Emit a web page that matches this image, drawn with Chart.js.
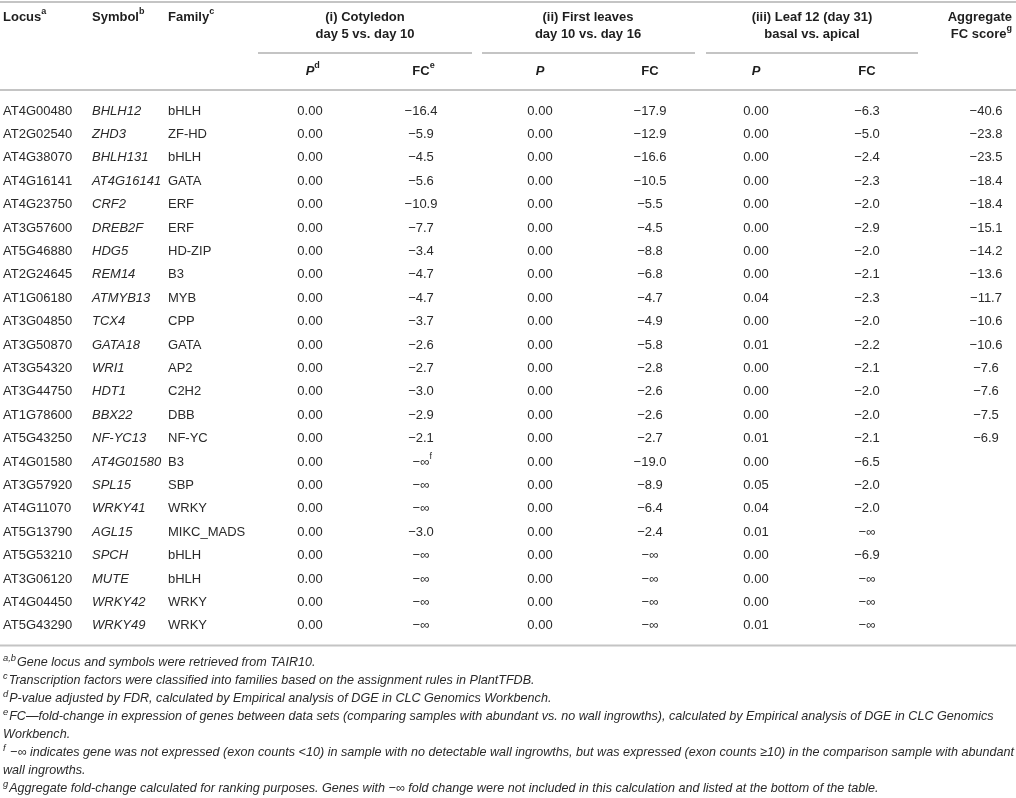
<!DOCTYPE html>
<html><head><meta charset="utf-8">
<script src="https://cdn.jsdelivr.net/npm/chart.js@4.4.1/dist/chart.umd.min.js"></script>
<style>html,body{margin:0;padding:0;background:#fff;overflow:hidden}canvas{display:block}</style>
</head><body><canvas id="c" width="1016" height="798"></canvas>
<script>
// ---------------- data ----------------
const loci = ["AT4G00480","AT2G02540","AT4G38070","AT4G16141","AT4G23750","AT3G57600","AT5G46880","AT2G24645","AT1G06180","AT3G04850","AT3G50870","AT3G54320","AT3G44750","AT1G78600","AT5G43250","AT4G01580","AT3G57920","AT4G11070","AT5G13790","AT5G53210","AT3G06120","AT4G04450","AT5G43290"];
const symbols = ["BHLH12","ZHD3","BHLH131","AT4G16141","CRF2","DREB2F","HDG5","REM14","ATMYB13","TCX4","GATA18","WRI1","HDT1","BBX22","NF-YC13","AT4G01580","SPL15","WRKY41","AGL15","SPCH","MUTE","WRKY42","WRKY49"];
const families = ["bHLH","ZF-HD","bHLH","GATA","ERF","ERF","HD-ZIP","B3","MYB","CPP","GATA","AP2","C2H2","DBB","NF-YC","B3","SBP","WRKY","MIKC_MADS","bHLH","bHLH","WRKY","WRKY"];
const NI = -Infinity;
const pCotyledon  = [0,0,0,0,0,0,0,0,0,0,0,0,0,0,0,0,0,0,0,0,0,0,0];
const fcCotyledon = [-16.4,-5.9,-4.5,-5.6,-10.9,-7.7,-3.4,-4.7,-4.7,-3.7,-2.6,-2.7,-3.0,-2.9,-2.1,NI,NI,NI,-3.0,NI,NI,NI,NI];
const pFirstLeaves  = [0,0,0,0,0,0,0,0,0,0,0,0,0,0,0,0,0,0,0,0,0,0,0];
const fcFirstLeaves = [-17.9,-12.9,-16.6,-10.5,-5.5,-4.5,-8.8,-6.8,-4.7,-4.9,-5.8,-2.8,-2.6,-2.6,-2.7,-19.0,-8.9,-6.4,-2.4,NI,NI,NI,NI];
const pLeaf12  = [0,0,0,0,0,0,0,0,0.04,0,0.01,0,0,0,0.01,0,0.05,0.04,0.01,0,0,0,0.01];
const fcLeaf12 = [-6.3,-5.0,-2.4,-2.3,-2.0,-2.9,-2.0,-2.1,-2.3,-2.0,-2.2,-2.1,-2.0,-2.0,-2.1,-6.5,-2.0,-2.0,NI,-6.9,NI,NI,NI];
const aggregateFC = [-40.6,-23.8,-23.5,-18.4,-18.4,-15.1,-14.2,-13.6,-11.7,-10.6,-10.6,-7.6,-7.6,-7.5,-6.9,null,null,null,null,null,null,null,null];
const cellNotes = [{col: 4, row: 15, mark: "f"}];

const groupHeaders = [["(i) Cotyledon","day 5 vs. day 10"],["(ii) First leaves","day 10 vs. day 16"],["(iii) Leaf 12 (day 31)","basal vs. apical"],["Aggregate","FC score"]];
const footnotes = [
  ["a,b","Gene locus and symbols were retrieved from TAIR10."],
  ["c","Transcription factors were classified into families based on the assignment rules in PlantTFDB."],
  ["d","P-value adjusted by FDR, calculated by Empirical analysis of DGE in CLC Genomics Workbench."],
  ["e","FC\u2014fold-change in expression of genes between data sets (comparing samples with abundant vs. no wall ingrowths), calculated by Empirical analysis of DGE in CLC Genomics"],
  ["","Workbench."],
  ["f"," \u2212\u221e indicates gene was not expressed (exon counts <10) in sample with no detectable wall ingrowths, but was expressed (exon counts \u226510) in the comparison sample with abundant"],
  ["","wall ingrowths."],
  ["g","Aggregate fold-change calculated for ranking purposes. Genes with \u2212\u221e fold change were not included in this calculation and listed at the bottom of the table."]
];

// ---------------- formatting ----------------
const fmtP = v => v.toFixed(2);
const fmtFC = v => v === -Infinity ? "\u2212\u221e" : (v < 0 ? "\u2212" : "") + Math.abs(v).toFixed(1);
const fmtAgg = v => v === null ? "" : fmtFC(v);

// ---------------- layout (positions / styles only) ----------------
const FONT = "'Liberation Sans', Arial, sans-serif";
const BODY_SIZE = 13;
const columns = [
  {x: 3,   align: "left",   texts: loci},
  {x: 92,  align: "left",   texts: symbols, italic: true},
  {x: 168, align: "left",   texts: families},
  {x: 310, align: "center", texts: pCotyledon.map(fmtP)},
  {x: 421, align: "center", texts: fcCotyledon.map(fmtFC)},
  {x: 540, align: "center", texts: pFirstLeaves.map(fmtP)},
  {x: 650, align: "center", texts: fcFirstLeaves.map(fmtFC)},
  {x: 756, align: "center", texts: pLeaf12.map(fmtP)},
  {x: 867, align: "center", texts: fcLeaf12.map(fmtFC)},
  {x: 986, align: "center", texts: aggregateFC.map(fmtAgg)}
];
const groupSpans = [[258,472],[482,695],[706,918]];
const groupAnchors = [[365,"center"], [588,"center"], [812,"center"], [1012,"right"]];
const ROW_TOP = 99.3, ROW_H = 23.4;

const datasets = columns.map(c => ({
  data: loci.map((l, i) => ({x: c.x, y: l})),
  texts: c.texts, align: c.align, italic: !!c.italic,
  pointRadius: 0, pointHoverRadius: 0, showLine: false
}));

function drawRich(ctx, parts, x, y, align) {
  let w = 0, anchorW = 0;
  parts.forEach(p => { ctx.font = p.font; p.w = ctx.measureText(p.t).width; w += p.w; if (!p.sup) anchorW += p.w; });
  let sx = x;
  if (align === "center") sx = x - anchorW / 2;
  else if (align === "right") sx = x - w;
  ctx.textAlign = "left";
  parts.forEach(p => {
    ctx.font = p.font;
    ctx.fillText(p.t, sx, y + (p.sup ? -5 : 0));
    sx += p.w;
  });
}

const tablePlugin = {
  id: "tablePlugin",
  afterDraw(chart) {
    const ctx = chart.ctx;
    const xs = chart.scales.x;
    const area = chart.chartArea;
    ctx.save();
    ctx.textBaseline = "middle";
    const reg = BODY_SIZE + "px " + FONT;
    const ita = "italic " + BODY_SIZE + "px " + FONT;
    const bold = "bold " + BODY_SIZE + "px " + FONT;
    const boldIt = "italic bold " + BODY_SIZE + "px " + FONT;
    const sup = "9px " + FONT;
    const supB = "bold 9px " + FONT;

    // rules
    ctx.strokeStyle = "#c4c4c4";
    ctx.lineWidth = 2;
    const hline = (x0, x1, y) => { ctx.beginPath(); ctx.moveTo(xs.getPixelForValue(x0), y); ctx.lineTo(xs.getPixelForValue(x1), y); ctx.stroke(); };
    hline(0, 1016, 2);
    groupSpans.forEach(s => hline(s[0], s[1], 53));
    hline(0, 1016, 90);
    hline(0, 1016, area.bottom + 8);

    // header
    ctx.fillStyle = "#1e1e1e";
    drawRich(ctx, [{t: "Locus", font: bold}, {t: "a", font: supB, sup: true}], xs.getPixelForValue(columns[0].x), 17, "left");
    drawRich(ctx, [{t: "Symbol", font: bold}, {t: "b", font: supB, sup: true}], xs.getPixelForValue(columns[1].x), 17, "left");
    drawRich(ctx, [{t: "Family", font: bold}, {t: "c", font: supB, sup: true}], xs.getPixelForValue(columns[2].x), 17, "left");
    groupHeaders.forEach((g, i) => {
      const cx = xs.getPixelForValue(groupAnchors[i][0]);
      const al = groupAnchors[i][1];
      drawRich(ctx, [{t: g[0], font: bold}], cx, 17, al);
      const p2 = [{t: g[1], font: bold}];
      if (i === 3) p2.push({t: "g", font: supB, sup: true});
      drawRich(ctx, p2, cx, 34, al);
    });
    const subs = [[3, "P", "d"], [4, "FC", "e"], [5, "P", ""], [6, "FC", ""], [7, "P", ""], [8, "FC", ""]];
    subs.forEach(s => {
      const parts = [{t: s[1], font: s[1] === "P" ? boldIt : bold}];
      if (s[2]) parts.push({t: s[2], font: supB, sup: true});
      drawRich(ctx, parts, xs.getPixelForValue(columns[s[0]].x), 71, "center");
    });

    // body cells, positioned from the dataset elements (x scale + category y scale)
    ctx.fillStyle = "#2a2a2a";
    chart.data.datasets.forEach((ds, di) => {
      const meta = chart.getDatasetMeta(di);
      meta.data.forEach((pt, ri) => {
        const t = ds.texts[ri];
        if (!t) return;
        const parts = [{t: t, font: ds.italic ? ita : reg}];
        cellNotes.forEach(n => { if (n.col === di && n.row === ri) parts.push({t: n.mark, font: sup, sup: true}); });
        drawRich(ctx, parts, pt.x, pt.y, ds.align);
      });
    });

    // footnotes
    ctx.fillStyle = "#2a2a2a";
    const FN = "italic 12.8px 'Liberation Sans Narrow', " + FONT;
    const FNS = "italic 9.5px 'Liberation Sans Narrow', " + FONT;
    const lineW = f => { ctx.font = FNS; const s = f[0] ? ctx.measureText(f[0]).width + 1 : 0; ctx.font = FN; return s + ctx.measureText(f[1]).width; };
    const k = Math.min((1013 - 3) / lineW(footnotes[3]), (1014 - 3) / lineW(footnotes[5]));
    let fy = area.bottom + 24.5;
    footnotes.forEach(f => {
      ctx.save();
      ctx.translate(3, fy);
      ctx.scale(k, 1);
      let x = 0;
      if (f[0]) { ctx.font = FNS; ctx.fillText(f[0], 0, -4); x = ctx.measureText(f[0]).width + 1; }
      ctx.font = FN;
      ctx.fillText(f[1], x, 0);
      ctx.restore();
      fy += 18.1;
    });
    ctx.restore();
  }
};

new Chart(document.getElementById("c"), {
  type: "scatter",
  data: {datasets: datasets},
  options: {
    responsive: false, animation: false, devicePixelRatio: 1,
    events: [],
    layout: {padding: {top: ROW_TOP, bottom: 798 - ROW_TOP - ROW_H * loci.length, left: 0, right: 0}},
    scales: {
      x: {type: "linear", min: 0, max: 1016, display: false},
      y: {type: "category", labels: loci, offset: true, display: false}
    },
    plugins: {legend: {display: false}, tooltip: {enabled: false}}
  },
  plugins: [tablePlugin]
});
</script>
</body></html>
